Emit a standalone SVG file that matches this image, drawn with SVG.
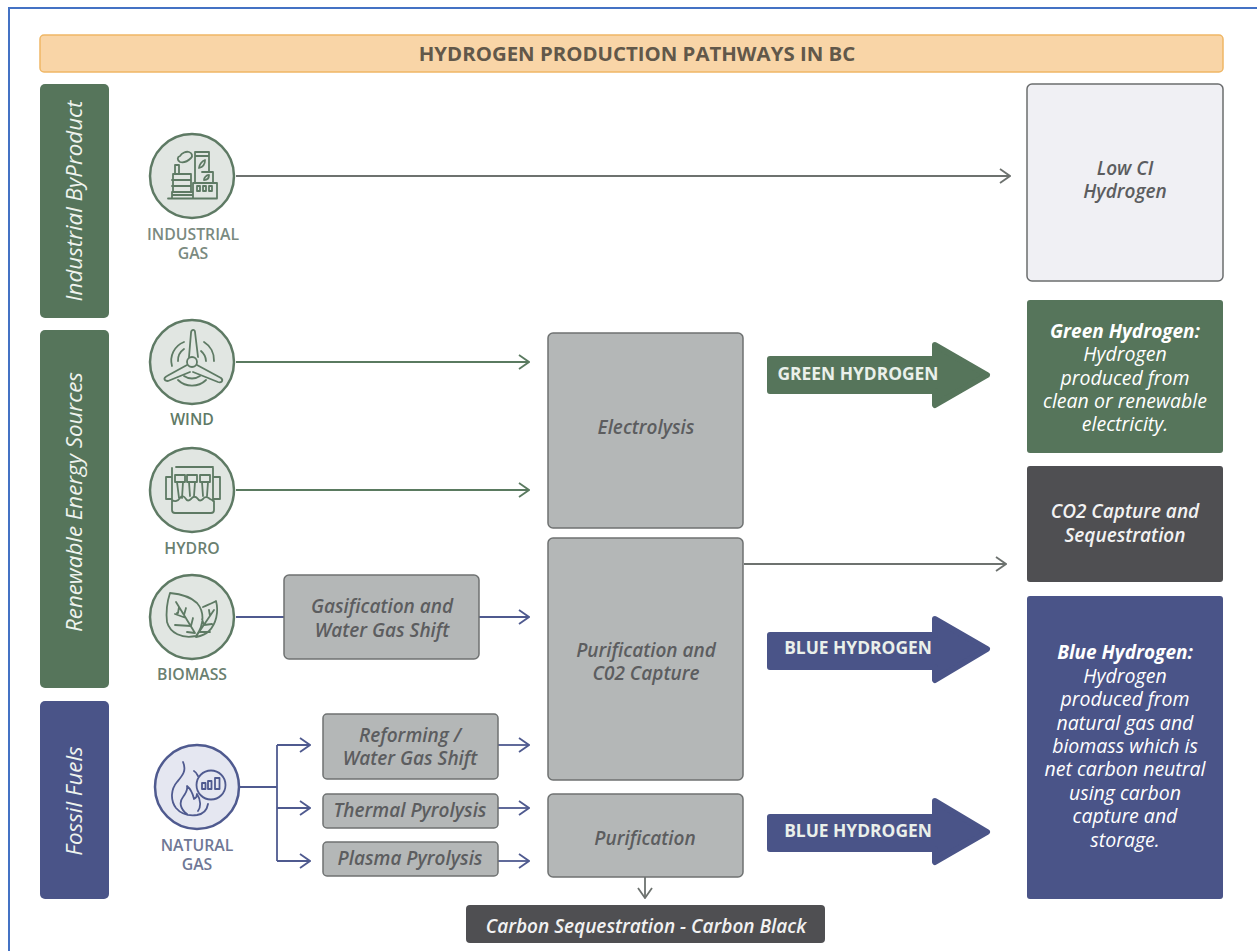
<svg xmlns="http://www.w3.org/2000/svg" width="1257" height="951" viewBox="0 0 1257 951">
<defs>
<marker id="ag" viewBox="0 0 12 16" refX="11" refY="8" markerWidth="12" markerHeight="16" markerUnits="userSpaceOnUse" orient="auto"><path d="M1 1L11 8L1 15" fill="none" stroke="#5a7a60" stroke-width="1.8"/></marker>
<marker id="an" viewBox="0 0 12 16" refX="11" refY="8" markerWidth="12" markerHeight="16" markerUnits="userSpaceOnUse" orient="auto"><path d="M1 1L11 8L1 15" fill="none" stroke="#6d726f" stroke-width="1.8"/></marker>
<marker id="ab" viewBox="0 0 12 16" refX="11" refY="8" markerWidth="12" markerHeight="16" markerUnits="userSpaceOnUse" orient="auto"><path d="M1 1L11 8L1 15" fill="none" stroke="#4f5a8f" stroke-width="1.8"/></marker>
</defs>
<style>
text{font-family:"Open Sans","Noto Sans",sans-serif;text-anchor:middle}
.side{fill:#eef3ee;font-size:22.300px;font-style:italic}
.g{fill:#56755b}.b{fill:#4a5488}.d{fill:#4f4f52}
.pb{fill:#b4b7b7;stroke:#6f7272;stroke-width:1.5}
.pt{fill:#5c5d5f;font-size:19px;font-style:italic;font-weight:600}
.lab{font-size:15.800px;font-weight:600}
.w{fill:#fff;font-size:19.500px;font-style:italic}
.wb{font-size:19px;font-weight:700}
.ws{fill:#f2f2f2;font-size:19px;font-style:italic;font-weight:600}
.ar{fill:#eaf0ea;font-size:17.400px;font-weight:700}
.cg{fill:#e1e6e2;stroke:#5e7a64;stroke-width:2.500}
.cb{fill:#e5e7f1;stroke:#4f5a8f;stroke-width:2.500}
.ig{fill:none;stroke:#5e7a64;stroke-width:1.800;stroke-linecap:round;stroke-linejoin:round}
.ib{fill:none;stroke:#4f5a8f;stroke-width:1.800;stroke-linecap:round;stroke-linejoin:round}
.c{fill:none;stroke-width:1.800}
</style>
<rect width="1257" height="951" fill="#fff"/>
<path d="M9 951V8H1257" fill="none" stroke="#4472c4" stroke-width="2"/>
<g id="title"><rect x="40" y="35" width="1183" height="37" rx="4" fill="#f9d5a7" stroke="#efb765" stroke-width="1.500"/><text x="637" y="61" font-size="20.400" font-weight="700" fill="#62584a">HYDROGEN PRODUCTION PATHWAYS IN BC</text></g>

<g id="band-industrial"><rect x="40" y="84" width="69" height="234" rx="5" class="g"/><text class="side" transform="translate(82 201) rotate(-90)">Industrial ByProduct</text></g>
<g id="band-renewable"><rect x="40" y="330" width="69" height="358" rx="5" class="g"/><text class="side" transform="translate(82 502) rotate(-90)">Renewable Energy Sources</text></g>
<g id="band-fossil"><rect x="40" y="701" width="69" height="198" rx="5" class="b"/><text class="side" transform="translate(82 801) rotate(-90)">Fossil Fuels</text></g>

<g id="connectors">
<path class="c" stroke="#6d726f" marker-end="url(#an)" d="M236 176H1010"/>
<path class="c" stroke="#5a7a60" marker-end="url(#ag)" d="M236 362H529"/>
<path class="c" stroke="#5a7a60" marker-end="url(#ag)" d="M236 490H529"/>
<path class="c" stroke="#4f5a8f" d="M236 617H284"/>
<path class="c" stroke="#4f5a8f" marker-end="url(#ab)" d="M479 617H529"/>
<path class="c" stroke="#6d726f" marker-end="url(#an)" d="M744 564H1006"/>
<path class="c" stroke="#4f5a8f" d="M239 787H277"/>
<path class="c" stroke="#4f5a8f" marker-end="url(#ab)" d="M277 745H310"/>
<path class="c" stroke="#4f5a8f" marker-end="url(#ab)" d="M277 808H310"/>
<path class="c" stroke="#4f5a8f" marker-end="url(#ab)" d="M277 861H310"/>
<path class="c" stroke="#4f5a8f" d="M277 745V861"/>
<path class="c" stroke="#4f5a8f" marker-end="url(#ab)" d="M498 745H529"/>
<path class="c" stroke="#4f5a8f" marker-end="url(#ab)" d="M498 808H529"/>
<path class="c" stroke="#4f5a8f" marker-end="url(#ab)" d="M498 861H529"/>
<path class="c" stroke="#6d726f" marker-end="url(#an)" d="M645 877V898"/>
</g>

<g id="industrial-gas"><circle cx="192" cy="176" r="42" class="cg"/>
<path class="ig" d="M168 198.500H217M172 198V192H193M193 198V183H217V198M173 192V174H191V192M172 180H191M172 186H191M175 174V165H179V174M195 183V152H209V172M195 156H209M202 172H213V183M197 186h3v5h-3zM203 186h3v5h-3zM209 186h3v5h-3zM172 195H192M180 162c-3-2-3-5 0-6c2-3 6-5 9-4c3 1 4 4 2 6c-3 3-7 5-11 4zM199 168c0-3 3-7 6-8c0 4-2 7-6 8zM204 180c0-2 2-5 5-5c0 3-2 5-5 5z"/>
<text class="lab" x="193" y="240" fill="#7a8a80"><tspan x="193">INDUSTRIAL</tspan><tspan x="193" dy="19">GAS</tspan></text></g>

<g id="wind"><circle cx="192" cy="362" r="42" class="cg"/>
<path class="ig" d="M189 357L191 333c0-4 4-4 4-1l3 25M197 365L221 378c3 3 0 5-3 4L193 372M187 365L167 376c-4 2-3 5 1 5L190 372"/><circle cx="192" cy="362" r="5" class="ig"/>
<path class="ig" d="M172 366a20 20 0 0 1 12-24M204 342a21 21 0 0 1 10 19M178 380a20 20 0 0 0 28 0M178 361a14 14 0 0 1 6-12M206 361a14 14 0 0 0-5-10M184 376a14 14 0 0 0 16 0"/>
<text class="lab" x="192" y="425" fill="#607a66">WIND</text></g>

<g id="hydro"><circle cx="192" cy="490" r="42" class="cg"/>
<path class="ig" d="M176 467H213M172 468V501M213 468V501M172 477H166V499H172M213 477H220V499H213M172 500c3 2 6 1 8-2c2-3 4-2 6 1c1 2 3 2 5 0c2-3 5-3 7 0c1 2 3 2 5 0c2-3 5-2 7 0l4 2V510c0 2-1 3-3 3H175c-2 0-3-1-3-3ZM175 475h10v7h-10zM187 475h10v7h-10zM200 475h10v7h-10zM177 482l2 16M183 482l-1 16M189 482l1 14M195 482l-1 14M202 482l1 14M208 482l-1 14"/>
<text class="lab" x="192" y="554" fill="#6a8070">HYDRO</text></g>

<g id="biomass"><circle cx="192" cy="617" r="42" class="cg"/>
<path class="ig" d="M170 593c10 1 21 4 27 10c7 8 8 21-1 33c-14 3-26-3-29-14c-1-9 0-20 3-29zM203 607c4-2 10-4 13-6c3 11 0 23-7 30c-3 3-8 5-13 6M176 602l19 31M179 607l-1 6l-1 0M186 618l-11-4M184 615l2-7M191 626l-16-1M191 626l2-8M195 633l-8-1M214 610l-17 25M210 616l-1-6M204 625l-2-6M204 625l8-1M199 632l11 0"/>
<text class="lab" x="192" y="680" fill="#6a8070">BIOMASS</text></g>

<g id="natural-gas"><circle cx="197" cy="787" r="42" class="cb"/>
<path class="ib" d="M183 762c4 9-1 14-6 20c-6 7-7 18-1 26c5 6 13 8 21 7c6-1 10-5 11-11M187 814c-7-5-8-12-4-17c3-4 5-7 4-11c5 4 6 9 7 13c2-1 3-3 3-5c4 6 4 13 1 17M194 771c2 1 3 3 4 5"/><circle cx="211" cy="785" r="14.500" class="ib"/>
<path class="ib" d="M202 783h3.500v6h-3.500zM208 781h3.500v8h-3.500zM215 778h4.500v11h-4.500z"/>
<text class="lab" x="197" y="851" fill="#6f7896"><tspan x="197">NATURAL</tspan><tspan x="197" dy="19">GAS</tspan></text></g>

<g id="gasification"><rect x="284" y="575" width="195" height="84" rx="5" class="pb"/><text class="pt" y="613"><tspan x="382">Gasification and</tspan><tspan x="382" dy="24">Water Gas Shift</tspan></text></g>
<g id="reforming"><rect x="323" y="714" width="175" height="65" rx="4" class="pb"/><text class="pt" y="742"><tspan x="410">Reforming /</tspan><tspan x="410" dy="23">Water Gas Shift</tspan></text></g>
<g id="thermal"><rect x="323" y="794" width="175" height="34" rx="4" class="pb"/><text class="pt" x="410" y="817">Thermal Pyrolysis</text></g>
<g id="plasma"><rect x="323" y="842" width="175" height="34" rx="4" class="pb"/><text class="pt" x="410" y="865">Plasma Pyrolysis</text></g>
<g id="electrolysis"><rect x="548" y="333" width="195" height="195" rx="5" class="pb"/><text class="pt" x="646" y="434">Electrolysis</text></g>
<g id="purification-capture"><rect x="548" y="538" width="195" height="242" rx="5" class="pb"/><text class="pt" y="657"><tspan x="646">Purification and</tspan><tspan x="646" dy="23">C02 Capture</tspan></text></g>
<g id="purification"><rect x="548" y="794" width="195" height="83" rx="5" class="pb"/><text class="pt" x="645" y="845">Purification</text></g>
<g id="carbon-black"><rect x="466" y="905" width="359" height="38" rx="4" class="d"/><text class="ws" x="646" y="933">Carbon Sequestration - Carbon Black</text></g>

<g id="arrow-green"><path class="g" stroke="#56755b" stroke-width="6" stroke-linejoin="round" d="M770 359H935V345L987 375L935 405V391H770Z"/><text class="ar" x="858" y="380">GREEN HYDROGEN</text></g>
<g id="arrow-blue-1"><path class="b" stroke="#4a5488" stroke-width="6" stroke-linejoin="round" d="M770 635H935V619L987 649L935 680V667H770Z"/><text class="ar" x="858" y="654">BLUE HYDROGEN</text></g>
<g id="arrow-blue-2"><path class="b" stroke="#4a5488" stroke-width="6" stroke-linejoin="round" d="M770 817H935V801L987 832L935 862V849H770Z"/><text class="ar" x="858" y="837">BLUE HYDROGEN</text></g>

<g id="low-ci"><rect x="1027" y="84" width="196" height="197" rx="5" fill="#f0f0f4" stroke="#6b6d6e" stroke-width="1.500"/><text class="pt" y="175"><tspan x="1125">Low CI</tspan><tspan x="1125" dy="23">Hydrogen</tspan></text></g>
<g id="green-def"><rect x="1027" y="300" width="196" height="153" rx="3" class="g"/><text class="w" y="338"><tspan class="wb" x="1125">Green Hydrogen:</tspan><tspan x="1125" dy="23">Hydrogen</tspan><tspan x="1125" dy="24">produced from</tspan><tspan x="1125" dy="23">clean or renewable</tspan><tspan x="1125" dy="23">electricity.</tspan></text></g>
<g id="co2"><rect x="1027" y="466" width="196" height="116" rx="3" class="d"/><text class="ws" y="518"><tspan x="1125">CO2 Capture and</tspan><tspan x="1125" dy="24">Sequestration</tspan></text></g>
<g id="blue-def"><rect x="1027" y="596" width="196" height="303" rx="3" class="b"/><text class="w" y="659"><tspan class="wb" x="1125">Blue Hydrogen:</tspan><tspan x="1125" dy="24">Hydrogen</tspan><tspan x="1125" dy="23">produced from</tspan><tspan x="1125" dy="24">natural gas and</tspan><tspan x="1125" dy="23">biomass which is</tspan><tspan x="1125" dy="23">net carbon neutral</tspan><tspan x="1125" dy="24">using carbon</tspan><tspan x="1125" dy="23">capture and</tspan><tspan x="1125" dy="24">storage.</tspan></text></g>
</svg>
